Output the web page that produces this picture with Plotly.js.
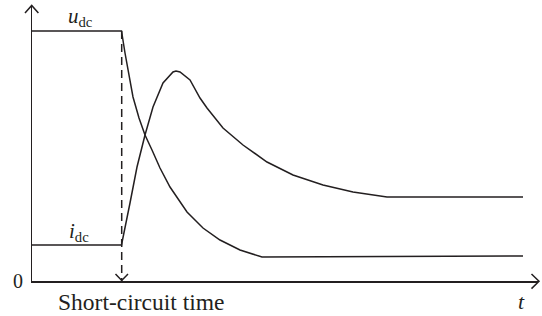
<!DOCTYPE html>
<html>
<head>
<meta charset="utf-8">
<script src="https://cdn.plot.ly/plotly-3.0.1.min.js"></script>
<style>html,body{margin:0;padding:0;background:#fff;}#chart{width:542px;height:316px;}</style>
</head>
<body>
<div id="chart"></div>
<script>
// Schematic values (arbitrary units)
const tU = [0, 89.5, 93, 97, 101, 107, 113, 120, 128, 138, 155, 171, 188, 208, 230, 491];
const uDC = [250, 250, 228, 205, 184, 163, 146, 131, 113, 94, 69, 53, 41, 31, 24, 25];
const tI = [0, 89.5, 98, 105, 113, 121, 131, 137, 141, 144, 148, 158, 168, 175, 191, 211, 235, 261, 291, 321, 355, 491];
const iDC = [36, 36, 78, 114, 146, 174, 198, 205, 209, 210, 209, 201, 183, 173, 153, 136, 119, 106, 96, 89, 84, 84];
const tShort = 89.7;
const xRange = [0, 506];
const yRange = [0, 276];
const labels = {u: '<i>u</i><sub>dc</sub>', i: '<i>i</i><sub>dc</sub>', zero: '0', xlab: 'Short-circuit time', t: '<i>t</i>'};

const W = 542, H = 316, mL = 32, mR = 4, mT = 5, mB = 35;
const pw = W - mL - mR, ph = H - mT - mB;
const px = v => (v - mL) / pw;          // page pixel -> paper x
const py = v => (H - mB - v) / ph;      // page pixel -> paper y
const ink = '#231f20';
const font = '"Liberation Serif", "DejaVu Serif", serif';

const traces = [
  {x: tU, y: uDC, mode: 'lines', line: {color: ink, width: 1.5}, hoverinfo: 'skip', cliponaxis: false},
  {x: tI, y: iDC, mode: 'lines', line: {color: ink, width: 1.5}, hoverinfo: 'skip', cliponaxis: false}
];

const chevron = (pts) => 'M' + pts.map(p => px(p[0]) + ',' + py(p[1])).join(' L');

const layout = {
  width: W, height: H,
  margin: {l: mL, r: mR, t: mT, b: mB, pad: 0},
  paper_bgcolor: '#fff', plot_bgcolor: '#fff',
  showlegend: false,
  font: {family: font, color: ink},
  xaxis: {range: xRange, showgrid: false, zeroline: false, showticklabels: false, ticks: '',
          showline: true, linecolor: ink, linewidth: 1.5, fixedrange: true},
  yaxis: {range: yRange, showgrid: false, zeroline: false, showticklabels: false, ticks: '',
          showline: true, linecolor: ink, linewidth: 1.5, fixedrange: true},
  shapes: [
    {type: 'line', xref: 'x', yref: 'y', x0: tShort, x1: tShort, y0: uDC[1], y1: 0,
     line: {color: ink, width: 1.5, dash: '8px,5px'}},
    {type: 'path', xref: 'paper', yref: 'paper', path: chevron([[115.5, 274], [121.7, 280.5], [128, 274]]),
     line: {color: ink, width: 1.5}},
    {type: 'path', xref: 'paper', yref: 'paper', path: chevron([[25, 13], [31.7, 5.5], [38.4, 13]]),
     line: {color: ink, width: 1.5}},
    {type: 'path', xref: 'paper', yref: 'paper', path: chevron([[531.5, 274], [539, 281.3], [531.5, 288.6]]),
     line: {color: ink, width: 1.5}}
  ],
  annotations: [
    {xref: 'paper', yref: 'paper', x: px(66), y: py(17), xanchor: 'left', yanchor: 'middle', showarrow: false,
     text: labels.u, font: {family: font, size: 21, color: ink}},
    {xref: 'paper', yref: 'paper', x: px(67), y: py(232), xanchor: 'left', yanchor: 'middle', showarrow: false,
     text: labels.i, font: {family: font, size: 21, color: ink}},
    {xref: 'paper', yref: 'paper', x: px(17.5), y: py(281), xanchor: 'center', yanchor: 'middle', showarrow: false,
     text: labels.zero, font: {family: font, size: 20, color: ink}},
    {xref: 'paper', yref: 'paper', x: px(56), y: py(302), xanchor: 'left', yanchor: 'middle', showarrow: false,
     text: labels.xlab, font: {family: font, size: 23.5, color: ink}},
    {xref: 'paper', yref: 'paper', x: px(521), y: py(301), xanchor: 'center', yanchor: 'middle', showarrow: false,
     text: labels.t, font: {family: font, size: 22, color: ink}}
  ]
};

Plotly.newPlot('chart', traces, layout, {staticPlot: true, displayModeBar: false});
</script>
</body>
</html>
